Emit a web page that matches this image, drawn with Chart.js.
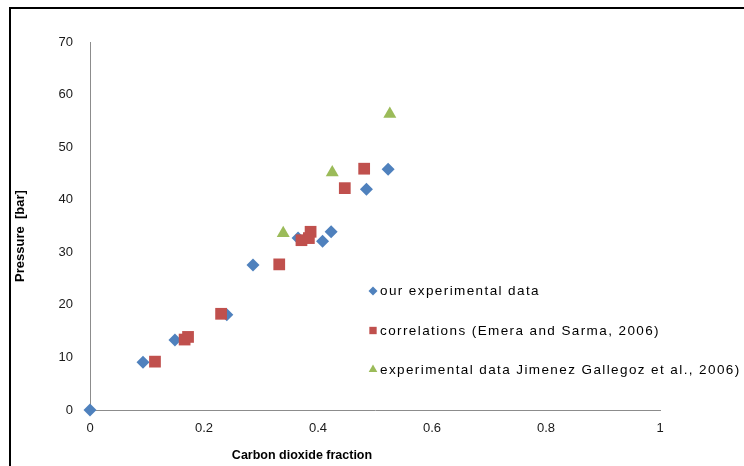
<!DOCTYPE html>
<html>
<head>
<meta charset="utf-8">
<script src="https://cdn.jsdelivr.net/npm/chart.js@4/dist/chart.umd.min.js"></script>
<style>
  html, body { margin: 0; padding: 0; background: #ffffff; }
  #wrap { width: 744px; height: 466px; position: relative; }
</style>
</head>
<body>
<div id="wrap"><canvas id="c" width="744" height="466"></canvas></div>
<script>
// CO2 fraction vs. pressure
const ourX = [0, 0.093, 0.149, 0.240, 0.286, 0.365, 0.408, 0.423, 0.485, 0.523];
const ourY = [0, 9.1, 13.3, 18.1, 27.6, 32.7, 32.1, 33.9, 42.0, 45.8];

const corrX = [0.114, 0.166, 0.172, 0.230, 0.332, 0.371, 0.384, 0.387, 0.447, 0.481];
const corrY = [9.2, 13.4, 13.9, 18.3, 27.7, 32.3, 32.7, 33.9, 42.2, 45.9];

const jgX = [0.339, 0.425, 0.526];
const jgY = [33.6, 45.2, 56.3];

const seriesNames = [
  'our experimental data',
  'correlations (Emera and Sarma, 2006)',
  'experimental data Jimenez Gallegoz et al., 2006)'
];
const xTitle = 'Carbon dioxide fraction';
const yTitle = 'Pressure  [bar]';

const toPoints = (xs, ys) => xs.map((x, i) => ({ x: x, y: ys[i] }));

const FONT = '"Liberation Sans", Arial, sans-serif';
const styles = [
  { pointStyle: 'rectRot', color: '#4F81BD', radius: 6.5, legendRadius: 4.5 },
  { pointStyle: 'rect', color: '#C0504D', radius: 8.3, legendRadius: 5.2 },
  { pointStyle: 'triangle', color: '#9BBB59', radius: 7.5, legendRadius: 5 }
];

// frame, axis titles and the in-plot legend
const decorations = {
  id: 'decorations',
  afterDraw(chart) {
    const ctx = chart.ctx;
    const area = chart.chartArea;
    ctx.save();

    // outer frame (top and left edges visible)
    ctx.strokeStyle = '#000000';
    ctx.lineWidth = 2;
    ctx.beginPath();
    ctx.moveTo(10, 470);
    ctx.lineTo(10, 8);
    ctx.lineTo(750, 8);
    ctx.stroke();

    // axis titles
    ctx.fillStyle = '#000000';
    ctx.font = 'bold 12.5px ' + FONT;
    ctx.textAlign = 'center';
    ctx.textBaseline = 'middle';
    ctx.fillText(xTitle, area.left + 212, 456);

    ctx.save();
    ctx.translate(20, area.top + 194);
    ctx.rotate(-Math.PI / 2);
    ctx.font = 'bold 13px ' + FONT;
    ctx.fillText(yTitle, 0, 0);
    ctx.restore();

    // legend
    const lx = area.left + 283;
    const rows = [area.top + 249, area.top + 288.5, area.top + 327.5];
    ctx.font = '13.5px ' + FONT;
    ctx.textAlign = 'left';
    ctx.letterSpacing = '1.4px';
    seriesNames.forEach((name, i) => {
      const s = styles[i];
      ctx.fillStyle = s.color;
      ctx.strokeStyle = s.color;
      ctx.lineWidth = 0;
      Chart.helpers.drawPoint(ctx, {
        pointStyle: s.pointStyle,
        radius: s.legendRadius,
        rotation: 0,
        borderWidth: 0
      }, lx, rows[i]);
      ctx.fillStyle = '#000000';
      ctx.fillText(name, lx + 7, rows[i] + 0.5);
    });
    ctx.restore();
  }
};

const makeDataset = (label, xs, ys, s, order) => ({
  label: label,
  data: toPoints(xs, ys),
  pointStyle: s.pointStyle,
  pointRadius: s.radius,
  pointHoverRadius: s.radius,
  backgroundColor: s.color,
  borderColor: s.color,
  pointBorderWidth: 0,
  showLine: false,
  clip: false,
  order: order
});

new Chart(document.getElementById('c'), {
  type: 'scatter',
  data: {
    datasets: [
      makeDataset(seriesNames[0], ourX, ourY, styles[0], 3),
      makeDataset(seriesNames[1], corrX, corrY, styles[1], 2),
      makeDataset(seriesNames[2], jgX, jgY, styles[2], 1)
    ]
  },
  options: {
    responsive: false,
    animation: false,
    events: [],
    layout: { padding: { left: 0, right: 84, top: 42, bottom: 0 } },
    plugins: {
      legend: { display: false },
      tooltip: { enabled: false }
    },
    scales: {
      x: {
        type: 'linear',
        min: 0,
        max: 1,
        ticks: {
          stepSize: 0.2,
          padding: 11,
          color: '#1a1a1a',
          font: { family: FONT, size: 13 },
          callback: (v) => String(Number(v.toFixed(1)))
        },
        grid: { display: false, drawTicks: false },
        border: { display: true, color: '#8c8c8c', width: 1 },
        afterFit(scale) { scale.height = 56; }
      },
      y: {
        type: 'linear',
        min: 0,
        max: 70,
        ticks: {
          stepSize: 10,
          padding: 17,
          color: '#1a1a1a',
          font: { family: FONT, size: 13 }
        },
        grid: { display: false, drawTicks: false },
        border: { display: true, color: '#8c8c8c', width: 1 },
        afterFit(scale) { scale.width = 90; }
      }
    }
  },
  plugins: [decorations]
});
</script>
</body>
</html>
